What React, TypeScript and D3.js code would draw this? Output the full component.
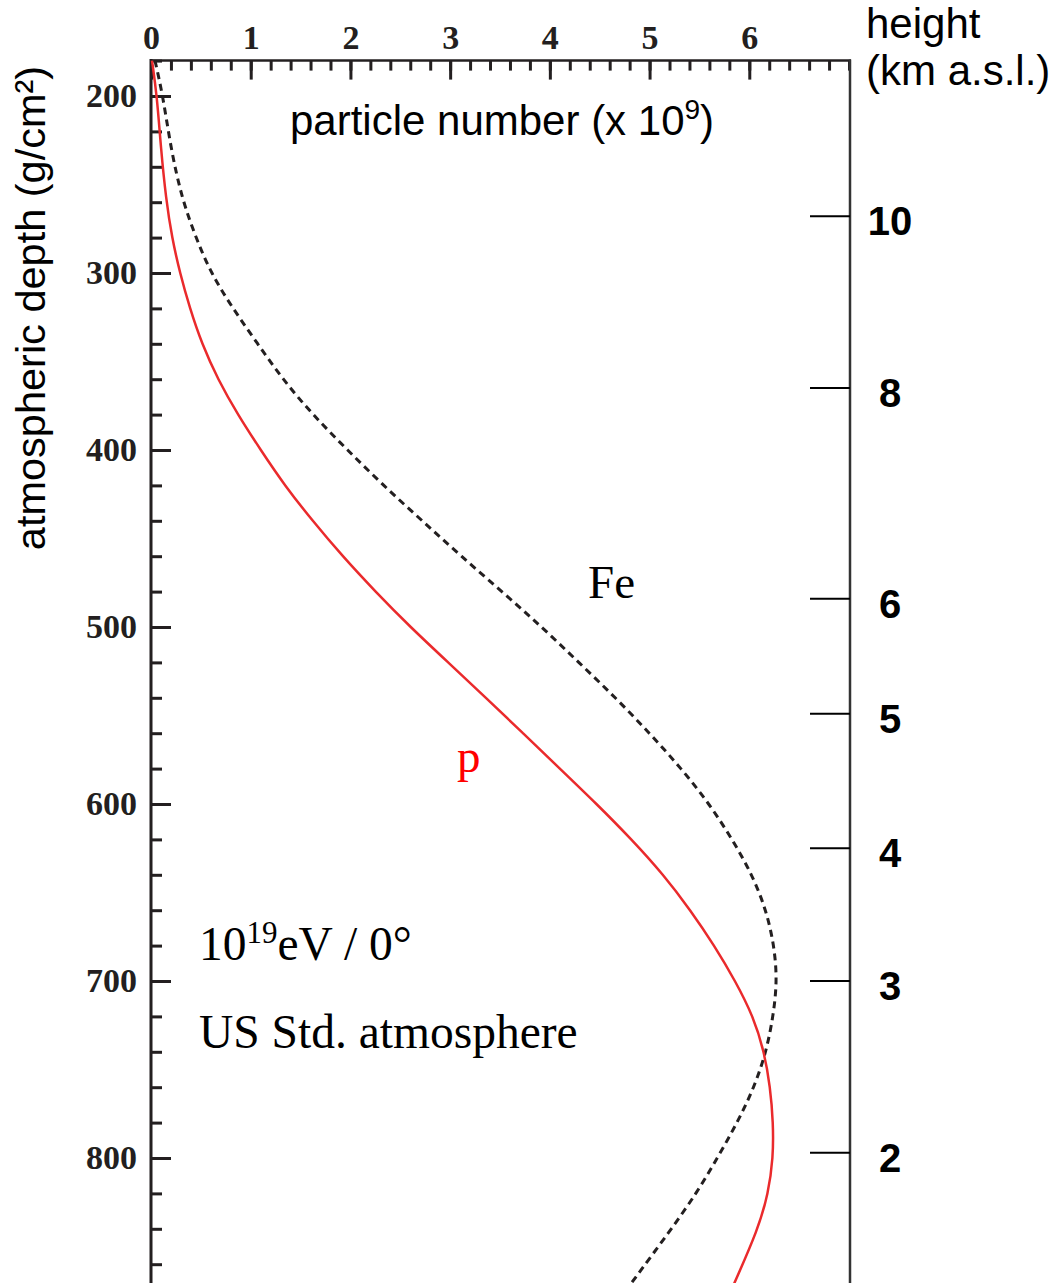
import React, { useEffect, useRef } from "react"
import * as d3 from "d3"

// shower profiles: depth in g/cm2, particles in 10^9
const depthP = [180, 200, 230, 258, 280, 300, 320, 340, 360, 380, 400, 420, 440, 460, 480, 500, 520, 540, 560, 580, 600, 620, 640, 660, 680, 700, 720, 740, 760, 780, 800, 820, 840, 872]
const particlesP = [0.01, 0.06, 0.1, 0.15, 0.21, 0.29, 0.39, 0.51, 0.67, 0.87, 1.1, 1.34, 1.62, 1.92, 2.25, 2.6, 2.98, 3.36, 3.73, 4.1, 4.47, 4.82, 5.14, 5.41, 5.65, 5.86, 6.04, 6.15, 6.21, 6.24, 6.24, 6.19, 6.09, 5.84]

const depthFe = [180, 200, 230, 258, 280, 300, 320, 340, 360, 380, 400, 420, 440, 460, 480, 500, 520, 540, 560, 580, 600, 620, 640, 660, 680, 700, 720, 740, 760, 780, 800, 820, 840, 872]
const particlesFe = [0.04, 0.12, 0.2, 0.31, 0.45, 0.6, 0.82, 1.07, 1.32, 1.62, 1.97, 2.33, 2.72, 3.11, 3.52, 3.92, 4.29, 4.66, 5.0, 5.32, 5.6, 5.83, 6.03, 6.17, 6.25, 6.28, 6.24, 6.17, 6.05, 5.88, 5.68, 5.47, 5.22, 4.8]

const numberTicks = [0, 1, 2, 3, 4, 5, 6]
const depthTicks = [200, 300, 400, 500, 600, 700, 800]
const heightKm = [10, 8, 6, 5, 4, 3, 2]
const heightDepth = [268, 365, 484, 549, 625, 700, 797]

const W = 1056
const H = 1283
const ink = "#231f20"
const serif = "'Liberation Serif', 'Times New Roman', serif"
const sans = "'Liberation Sans', Arial, sans-serif"

export default function App() {
    const ref = useRef<SVGSVGElement>(null)

    useEffect(() => {
        const svg = d3.select(ref.current)
        svg.selectAll("*").remove()

        const x = d3.scaleLinear().domain([0, 7]).range([151, 849])
        const y = d3.scaleLinear().domain([200, 800]).range([96, 1158])
        const top = y(180)

        // top axis, ticks pointing down
        const topMinor = svg.append("g").attr("transform", `translate(0,${top})`)
            .call(d3.axisTop(x).tickValues(d3.range(0, 7.01, 0.2)).tickSize(-10).tickFormat(() => ""))
        const topMajor = svg.append("g").attr("transform", `translate(0,${top})`)
            .call(d3.axisTop(x).tickValues(numberTicks).tickSize(-19).tickPadding(12).tickFormat(d3.format("d")))

        // left axis, ticks pointing right
        const leftMinor = svg.append("g").attr("transform", "translate(151,0)")
            .call(d3.axisLeft(y).tickValues(d3.range(180, 880, 20)).tickSize(-11).tickFormat(() => ""))
        const leftMajor = svg.append("g").attr("transform", "translate(151,0)")
            .call(d3.axisLeft(y).tickValues(depthTicks).tickSize(-20).tickPadding(14).tickFormat(d3.format("d")))

        for (const g of [topMinor, topMajor, leftMinor, leftMajor]) {
            g.select(".domain").remove()
            g.selectAll(".tick line").attr("stroke", ink).attr("stroke-width", 3)
            g.selectAll(".tick text")
                .attr("fill", ink)
                .attr("font-family", serif)
                .attr("font-weight", "bold")
                .attr("font-size", 34)
        }

        // frame lines
        svg.append("line").attr("x1", 151).attr("x2", 151).attr("y1", top - 1.5).attr("y2", H)
            .attr("stroke", ink).attr("stroke-width", 3)
        svg.append("line").attr("x1", 150).attr("x2", 851).attr("y1", top).attr("y2", top)
            .attr("stroke", ink).attr("stroke-width", 2.5)
        svg.append("line").attr("x1", 850).attr("x2", 850).attr("y1", top - 1).attr("y2", H)
            .attr("stroke", "#333").attr("stroke-width", 2.5)

        // height scale on the right
        const hg = svg.append("g")
        hg.selectAll("line").data(heightDepth).enter().append("line")
            .attr("x1", 810).attr("x2", 850)
            .attr("y1", d => y(d)).attr("y2", d => y(d))
            .attr("stroke", "black").attr("stroke-width", 2)
        hg.selectAll("text").data(heightKm).enter().append("text")
            .attr("x", 890)
            .attr("y", (d, i) => y(heightDepth[i]) + 19)
            .attr("text-anchor", "middle")
            .attr("font-family", sans).attr("font-weight", "bold").attr("font-size", 40)
            .text(d => d)

        // curves
        const line = (vals: number[]) => d3.line<number>()
            .x((d, i) => x(vals[i]))
            .y(d => y(d))
            .curve(d3.curveBasis)

        svg.append("path").attr("d", line(particlesFe)(depthFe))
            .attr("fill", "none").attr("stroke", ink).attr("stroke-width", 3)
            .attr("stroke-dasharray", "7,5")
        svg.append("path").attr("d", line(particlesP)(depthP))
            .attr("fill", "none").attr("stroke", "#ea2a2c").attr("stroke-width", 2.5)

        // titles
        svg.append("text")
            .attr("transform", "translate(45,308) rotate(-90)")
            .attr("text-anchor", "middle")
            .attr("font-family", sans).attr("font-size", 41.5)
            .text("atmospheric depth (g/cm²)")

        const xt = svg.append("text").attr("x", 290).attr("y", 135)
            .attr("font-family", sans).attr("font-size", 42)
        xt.append("tspan").text("particle number (x 10")
        xt.append("tspan").attr("font-size", 28).attr("dy", -16).text("9")
        xt.append("tspan").attr("dy", 16).text(")")

        svg.append("text").attr("x", 866).attr("y", 38)
            .attr("font-family", sans).attr("font-size", 42).text("height")
        svg.append("text").attr("x", 866).attr("y", 85)
            .attr("font-family", sans).attr("font-size", 42).text("(km a.s.l.)")

        // annotations
        svg.append("text").attr("x", 588).attr("y", 598)
            .attr("font-family", serif).attr("font-size", 47).text("Fe")
        svg.append("text").attr("x", 457).attr("y", 772)
            .attr("font-family", serif).attr("font-size", 47).attr("fill", "#f00").text("p")

        const e = svg.append("text").attr("x", 199).attr("y", 960)
            .attr("font-family", serif).attr("font-size", 47.5)
        e.append("tspan").text("10")
        e.append("tspan").attr("font-size", 31).attr("dy", -17).text("19")
        e.append("tspan").attr("dy", 17).text("eV / 0°")
        svg.append("text").attr("x", 199).attr("y", 1048)
            .attr("font-family", serif).attr("font-size", 47.5).text("US Std. atmosphere")
    }, [])

    return (
        <div style={{ position: "absolute", left: 0, top: 0 }}>
            <svg ref={ref} width={W} height={H} style={{ display: "block", background: "white" }} />
        </div>
    )
}
